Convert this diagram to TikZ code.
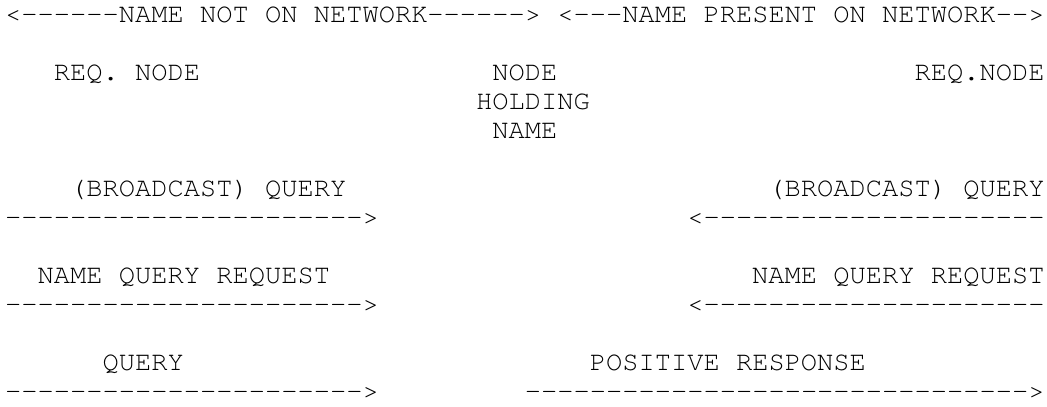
\documentclass[tikz,border=0pt]{standalone}
\usepackage{fontspec}
\setmonofont{TeX Gyre Cursor}
\usepackage{tikz}

\tikzset{txt/.style={anchor=base west, inner sep=0pt, font=\ttfamily\fontsize{27.07pt}{29pt}\selectfont}}

\begin{document}
\begin{tikzpicture}
\useasboundingbox (0,0) rectangle (1047pt,-407pt);
\begin{scope}[shift={(5pt,-22.5pt)}, x=16.24pt, y=-29pt]
\node[txt] (notnet) at (0, 0) {<------NAME NOT ON NETWORK------>};
\node[txt] (presnet) at (34, 0) {<---NAME PRESENT ON NETWORK-->};
\node[txt] (reqa) at (3, 2) {REQ. NODE};
\node[txt] (holder) at (30, 2) {NODE};
\node[txt] (holderb) at (29, 3) {HOLDING};
\node[txt] (holderc) at (30, 4) {NAME};
\node[txt] (reqb) at (56, 2) {REQ.NODE};
\node[txt] (bqa) at (4, 6) {(BROADCAST) QUERY};
\node[txt] (bqalink) at (0, 7) {---------------------->};
\node[txt] (bqb) at (47, 6) {(BROADCAST) QUERY};
\node[txt] (bqblink) at (42, 7) {<---------------------};
\node[txt] (nqa) at (2, 9) {NAME QUERY REQUEST};
\node[txt] (nqalink) at (0, 10) {---------------------->};
\node[txt] (nqb) at (46, 9) {NAME QUERY REQUEST};
\node[txt] (nqblink) at (42, 10) {<---------------------};
\node[txt] (qa) at (6, 12) {QUERY};
\node[txt] (qalink) at (0, 13) {---------------------->};
\node[txt] (posresp) at (36, 12) {POSITIVE RESPONSE};
\node[txt] (posrlink) at (32, 13) {------------------------------->};
\end{scope}
\end{tikzpicture}
\end{document}
